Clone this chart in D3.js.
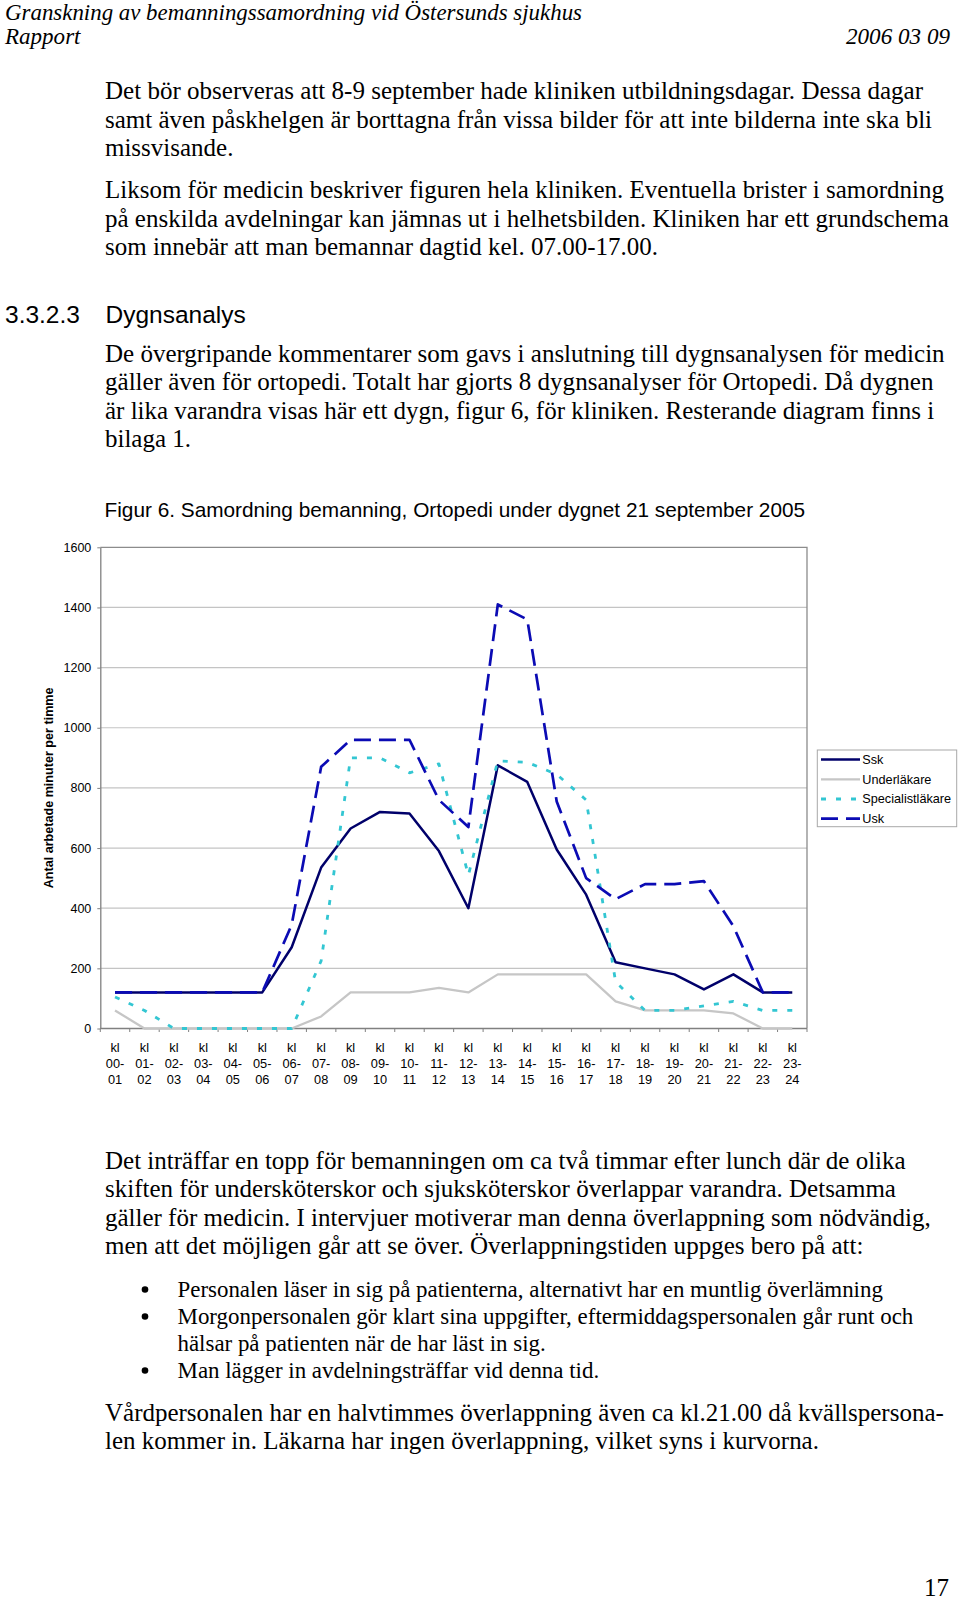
<!DOCTYPE html>
<html><head><meta charset="utf-8">
<script src="https://cdn.jsdelivr.net/npm/d3@7"></script>
<style>body{margin:0;background:#fff}svg{display:block}</style>
</head><body>
<svg id="page" width="960" height="1600"></svg>
<script>
// ---------- chart data ----------
const hours = ["00-01","01-02","02-03","03-04","04-05","05-06","06-07","07-08","08-09","09-10","10-11","11-12",
               "12-13","13-14","14-15","15-16","16-17","17-18","18-19","19-20","20-21","21-22","22-23","23-24"];
const ssk         = [120,120,120,120,120,120,270,535,665,720,715,590,400,875,820,595,445,220,200,180,130,180,120,120];
const underlakare = [60,0,0,0,0,0,0,40,120,120,120,135,120,180,180,180,180,90,60,60,60,50,0,0];
const specialist  = [105,60,0,0,0,0,0,225,900,900,850,880,510,890,885,845,760,155,60,60,75,90,60,60];
const usk         = [120,120,120,120,120,120,345,870,960,960,960,760,670,1410,1360,755,500,430,480,480,490,340,120,120];
const yTickValues = [0,200,400,600,800,1000,1200,1400,1600];
const seriesNames = ["Ssk","Underläkare","Specialistläkare","Usk"];
const yTitle = "Antal arbetade minuter per timme";
const caption = "Figur 6. Samordning bemanning, Ortopedi under dygnet 21 september 2005";

// ---------- document text ----------
const header1 = "Granskning av bemanningssamordning vid Östersunds sjukhus";
const header2 = "Rapport";
const headerDate = "2006 03 09";
const para1 = ["Det bör observeras att 8-9 september hade kliniken utbildningsdagar. Dessa dagar",
  "samt även påskhelgen är borttagna från vissa bilder för att inte bilderna inte ska bli",
  "missvisande."];
const para2 = ["Liksom för medicin beskriver figuren hela kliniken. Eventuella brister i samordning",
  "på enskilda avdelningar kan jämnas ut i helhetsbilden. Kliniken har ett grundschema",
  "som innebär att man bemannar dagtid kel. 07.00-17.00."];
const headingNum = "3.3.2.3";
const headingText = "Dygnsanalys";
const para3 = ["De övergripande kommentarer som gavs i anslutning till dygnsanalysen för medicin",
  "gäller även för ortopedi. Totalt har gjorts 8 dygnsanalyser för Ortopedi. Då dygnen",
  "är lika varandra visas här ett dygn, figur 6, för kliniken. Resterande diagram finns i",
  "bilaga 1."];
const para4 = ["Det inträffar en topp för bemanningen om ca två timmar efter lunch där de olika",
  "skiften för undersköterskor och sjuksköterskor överlappar varandra. Detsamma",
  "gäller för medicin. I intervjuer motiverar man denna överlappning som nödvändig,",
  "men att det möjligen går att se över. Överlappningstiden uppges bero på att:"];
const bullets = [["Personalen läser in sig på patienterna, alternativt har en muntlig överlämning"],
  ["Morgonpersonalen gör klart sina uppgifter, eftermiddagspersonalen går runt och",
   "hälsar på patienten när de har läst in sig."],
  ["Man lägger in avdelningsträffar vid denna tid."]];
const para5 = ["Vårdpersonalen har en halvtimmes överlappning även ca kl.21.00 då kvällspersona-",
  "len kommer in. Läkarna har ingen överlappning, vilket syns i kurvorna."];
const pageNo = "17";

const SERIF = "'Liberation Serif', Tinos, 'Times New Roman', Times, serif";
const SANS = "'Liberation Sans', Arial, Helvetica, sans-serif";

// Times-Roman advance widths (1/1000 em) so line lengths follow the original typeface
const TW = {" ":250, ",":250, "-":333, ".":250, ":":278,
  A:722,B:667,C:667,D:722,E:611,F:556,G:722,H:722,I:333,J:389,K:722,L:611,M:889,N:722,O:722,P:556,Q:722,R:667,
  S:556,T:611,U:722,V:722,W:944,X:722,Y:722,Z:611,
  a:444,b:500,c:444,d:500,e:444,f:333,g:500,h:500,i:278,j:278,k:500,l:278,m:778,n:500,o:500,p:500,q:500,r:333,
  s:389,t:278,u:500,v:500,w:722,x:500,y:500,z:444,"å":444,"ä":444,"ö":500,"Å":722,"Ä":722,"Ö":722,"é":444};
const emW = s => [...s].reduce((a, c) => a + (TW[c] ?? 500), 0) / 1000;

const svg = d3.select("#page");
svg.append("rect").attr("width",960).attr("height",1600).attr("fill","#fff");

const textG = svg.append("g");
const bodySize = 25;
const pxPerEm = 818 / emW(para1[0]);   // ≈ 25 px per em (12 pt body)
const bulletRatio = 11 / 12;           // bullet list is set one point smaller

function line(str, x, y, o = {}) {
  const t = textG.append("text")
    .attr("x", x).attr("y", y)
    .attr("font-family", o.family ?? SERIF)
    .attr("font-size", o.size ?? bodySize)
    .attr("font-style", o.italic ? "italic" : null)
    .attr("text-anchor", o.anchor ?? "start")
    .attr("fill", "#000")
    .text(str);
  const isBody = (o.family ?? SERIF) === SERIF && !o.italic;
  const len = o.len ?? (isBody ? emW(str) * pxPerEm * (o.ratio ?? 1) : null);
  if (len) t.attr("textLength", len).attr("lengthAdjust", "spacingAndGlyphs");
  return t;
}
function para(lines, x, y0, step = 28.5) { lines.forEach((s, i) => line(s, x, y0 + i * step)); }

line(header1, 5, 19.5, {italic: true, size: 23, len: 577});
line(header2, 5, 43.5, {italic: true, size: 23, len: 75.5});
line(headerDate, 950, 43.5, {italic: true, size: 23, len: 104, anchor: "end"});

para(para1, 105, 99.3);
para(para2, 105, 198.3);
line(headingNum, 5, 323.3, {family: SANS, size: 24.5});
line(headingText, 105.5, 323.3, {family: SANS, size: 24.5});
para(para3, 105, 361.8);
line(caption, 104.5, 516.7, {family: SANS, size: 20.8});

para(para4, 105, 1168.8);
let by = 1297;
bullets.forEach(b => {
  textG.append("circle").attr("cx", 145).attr("cy", by - 7.5).attr("r", 3.3).attr("fill", "#000");
  b.forEach(s => { line(s, 177.5, by, {size: 25 * bulletRatio, ratio: bulletRatio}); by += 27; });
});
para(para5, 105, 1420.5);
line(pageNo, 949, 1596, {anchor: "end"});

// ---------- chart ----------
const L = 100.3, R = 807, T = 547.3, B = 1028.5;
const x = d3.scaleBand().domain(hours).range([L, R]).padding(0);
const y = d3.scaleLinear().domain([0, 1600]).range([B, T]);
const cx = h => x(h) + x.bandwidth() / 2;

const chart = svg.append("g");
chart.append("g").selectAll("line").data(yTickValues.filter(v => v > 0 && v < 1600)).join("line")
  .attr("x1", L).attr("x2", R).attr("y1", d => y(d)).attr("y2", d => y(d))
  .attr("stroke", "#c4c4c4").attr("stroke-width", 1.2);
chart.append("path").attr("d", `M${L},${y(1600)}H${R}V${B}`).attr("fill", "none")
  .attr("stroke", "#8c8c8c").attr("stroke-width", 1.3);

const yAxis = chart.append("g").attr("transform", `translate(${L},0)`)
  .call(d3.axisLeft(y).tickValues(yTickValues).tickSize(3).tickSizeOuter(0).tickPadding(6).tickFormat(d3.format("d")));
yAxis.select(".domain").attr("stroke", "#808080").attr("stroke-width", 1.3);
yAxis.selectAll(".tick line").attr("stroke", "#808080");
yAxis.selectAll(".tick text").attr("font-family", SANS).attr("font-size", 12.5).attr("fill", "#000");

chart.append("line").attr("x1", L).attr("x2", R).attr("y1", B).attr("y2", B)
  .attr("stroke", "#808080").attr("stroke-width", 1.3);
const bounds = hours.map(h => x(h)).concat([R]);
chart.append("g").selectAll("line").data(bounds).join("line")
  .attr("x1", d => d).attr("x2", d => d).attr("y1", B).attr("y2", B + 3.5)
  .attr("stroke", "#808080").attr("stroke-width", 1);
const xl = chart.append("g").attr("font-family", SANS).attr("font-size", 12.8).attr("text-anchor", "middle");
hours.forEach(h => {
  const [a, b] = h.split("-");
  const t = xl.append("text").attr("x", cx(h)).attr("y", 1051.7);
  t.append("tspan").attr("x", cx(h)).text("kl");
  t.append("tspan").attr("x", cx(h)).attr("dy", 16.3).text(a + "-");
  t.append("tspan").attr("x", cx(h)).attr("dy", 16.3).text(b);
});

chart.append("text").attr("transform", `translate(49,${(T + B) / 2}) rotate(-90)`)
  .attr("text-anchor", "middle").attr("dy", "0.35em")
  .attr("font-family", SANS).attr("font-weight", "bold").attr("font-size", 12.6)
  .text(yTitle);

const styles = [
  {data: ssk, color: "#00006a", width: 2.5, dash: null},
  {data: underlakare, color: "#c6c6c6", width: 2.3, dash: null},
  {data: specialist, color: "#33c6d2", width: 2.8, dash: "5,10"},
  {data: usk, color: "#0b0bb4", width: 2.7, dash: "17,8"}
];
const lineGen = d3.line().x((d, i) => cx(hours[i])).y(d => y(d));
styles.forEach(s => {
  chart.append("path").datum(s.data).attr("d", lineGen).attr("fill", "none")
    .attr("stroke", s.color).attr("stroke-width", s.width)
    .attr("stroke-dasharray", s.dash).attr("stroke-linejoin", "round");
});

const lg = chart.append("g");
lg.append("rect").attr("x", 817.3).attr("y", 750).attr("width", 139.4).attr("height", 76.7)
  .attr("fill", "#fff").attr("stroke", "#a8a8a8").attr("stroke-width", 1);
seriesNames.forEach((n, i) => {
  const yy = 759.6 + i * 19.7;
  lg.append("line").attr("x1", 821).attr("x2", 860).attr("y1", yy).attr("y2", yy)
    .attr("stroke", styles[i].color).attr("stroke-width", styles[i].width)
    .attr("stroke-dasharray", styles[i].dash);
  lg.append("text").attr("x", 862.3).attr("y", yy).attr("dy", "0.35em")
    .attr("font-family", SANS).attr("font-size", 12.7).text(n);
});
</script>
</body></html>
